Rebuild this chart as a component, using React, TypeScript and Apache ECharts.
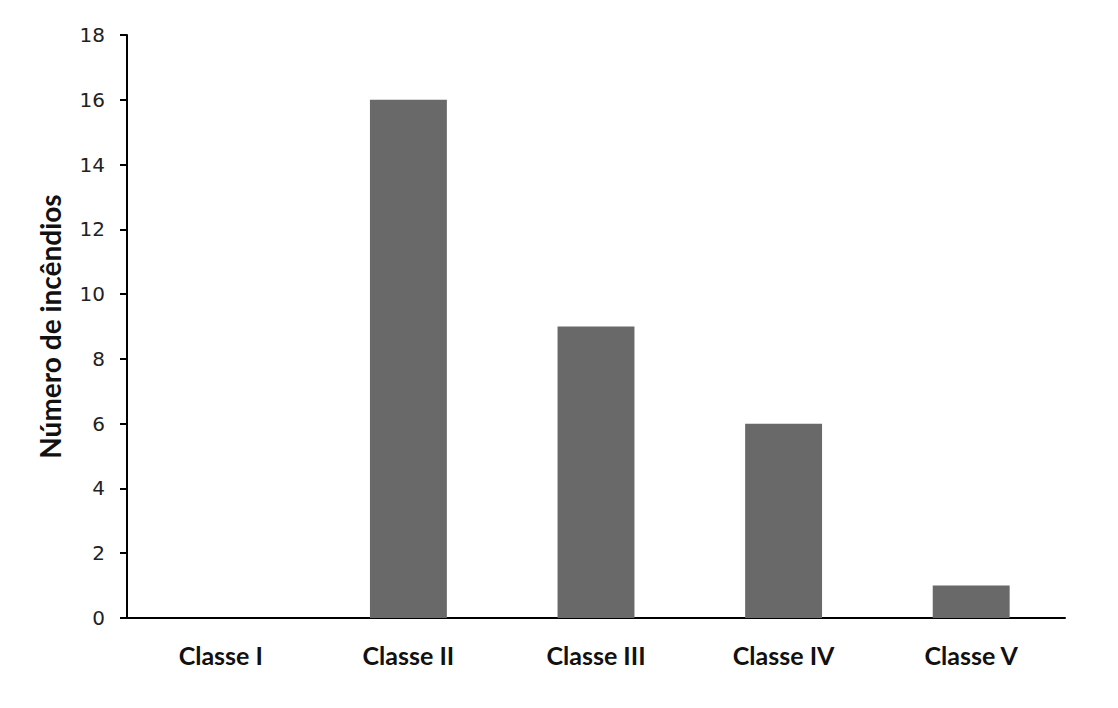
import React, { useEffect, useRef } from "react";
import * as echarts from "echarts";

const categories = ["Classe I", "Classe II", "Classe III", "Classe IV", "Classe V"];
const values = [0, 16, 9, 6, 1];
const yTicks = { min: 0, max: 18, interval: 2 };
const yName = "Número de incêndios";

export default function App() {
  const ref = useRef<HTMLDivElement>(null);
  useEffect(() => {
    const chart = echarts.init(ref.current!, null, { renderer: "svg" });
    chart.setOption({
      animation: false,
      backgroundColor: "#ffffff",
      grid: { left: 127, right: 53, top: 35, bottom: 90, containLabel: false },
      xAxis: {
        type: "category",
        data: categories,
        axisLine: { lineStyle: { color: "#000", width: 2 } },
        axisTick: { show: false },
        axisLabel: {
          color: "#111",
          fontFamily: "Lato",
          fontWeight: "bold",
          fontSize: 25,
          margin: 24,
        },
      },
      yAxis: {
        type: "value",
        min: yTicks.min,
        max: yTicks.max,
        interval: yTicks.interval,
        name: yName,
        nameLocation: "middle",
        nameGap: 63,
        nameTextStyle: { color: "#111", fontFamily: "Lato", fontWeight: "bold", fontSize: 28 },
        axisLine: { show: true, lineStyle: { color: "#000", width: 2 } },
        axisTick: { show: true, inside: false, length: 7, lineStyle: { color: "#000", width: 2 } },
        axisLabel: { color: "#222", fontFamily: "DejaVu Sans", fontSize: 20, margin: 22 },
        splitLine: { show: false },
      },
      series: [
        {
          type: "bar",
          data: values,
          barWidth: "41%",
          itemStyle: { color: "#696969" },
        },
      ],
    });
    return () => chart.dispose();
  }, []);
  return <div ref={ref} style={{ position: "fixed", left: 0, top: 0, width: 1118, height: 708 }} />;
}
